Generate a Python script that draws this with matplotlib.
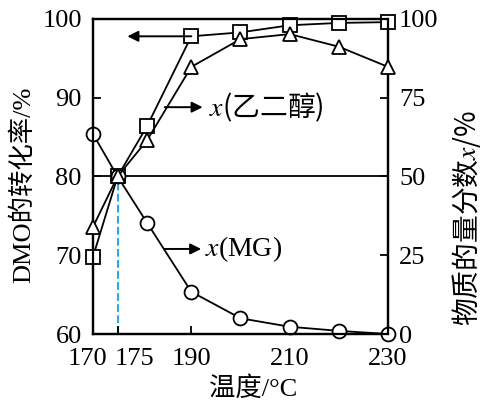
import matplotlib
matplotlib.use('Agg')
import matplotlib.pyplot as plt
from matplotlib.transforms import ScaledTranslation

plt.rcParams['mathtext.fontset'] = 'stix'

# data
temp = [170, 175, 181, 190, 200, 210, 220, 230]
dmo_conv = [69.8, 80.0, 86.4, 97.8, 98.3, 99.2, 99.5, 99.6]   # left axis
x_eg = [34.0, 50.0, 61.5, 84.8, 93.6, 95.2, 91.2, 84.8]        # right axis
x_mg = [63.5, 50.0, 35.3, 13.4, 5.0, 2.3, 1.0, 0.0]            # right axis

xticks = [170, 175, 190, 210, 230]
left_ticks = [60, 70, 80, 90, 100]
right_ticks = [0, 25, 50, 75, 100]

serif = 'Liberation Serif'
cjk = ['Liberation Serif', 'Noto Sans CJK SC']
fs = 19

fig = plt.figure(figsize=(4.83, 4.03), dpi=100)
ax = fig.add_axes([0.1925, 0.1712, 0.6108, 0.7817])
ax2 = ax.twinx()

# left axis: DMO conversion
ax.plot(temp, dmo_conv, 'k-', lw=1.3, marker='s', ms=10, mfc='white', mec='k', mew=1.3,
        zorder=3, clip_on=False)
ax.axhline(80, color='k', lw=1.3, zorder=2)
ax.plot([175, 175], [60, 80], ls='--', color='#29abe2', lw=1.5, zorder=1)

# right axis: mole fractions
ax2.plot(temp, x_mg, 'k-', lw=1.3, marker='o', ms=10, mfc='white', mec='k', mew=1.3,
         zorder=2, clip_on=False)
ax2.plot(temp, x_eg, 'k-', lw=1.3, marker='^', ms=10.5, mfc='white', mec='k', mew=1.3,
         zorder=3, clip_on=False)

ax.set_xlim(170, 230)
ax.set_ylim(60, 100)
ax2.set_ylim(0, 100)

ax.set_xticks(xticks)
ax.set_xticklabels([str(t) for t in xticks])
ax.set_yticks(left_ticks)
ax2.set_yticks(right_ticks)

for a in (ax, ax2):
    for s in a.spines.values():
        s.set_linewidth(1.6)
    a.tick_params(direction='in', length=6, width=1.3, labelsize=fs, pad=8)
    for lab in a.get_xticklabels() + a.get_yticklabels():
        lab.set_fontfamily(serif)
ax.tick_params(axis='x', pad=10)

# shift the crowded 170/175 labels like the original
labs = ax.get_xticklabels()
labs[0].set_transform(labs[0].get_transform() + ScaledTranslation(-5 / 100, 0, fig.dpi_scale_trans))
labs[1].set_horizontalalignment('left')
labs[1].set_transform(labs[1].get_transform() + ScaledTranslation(-3 / 100, 0, fig.dpi_scale_trans))

# arrows and series labels
arr = dict(arrowstyle='-|>', color='k', lw=1.4, mutation_scale=16, shrinkA=0, shrinkB=0)
ax.annotate('', xy=(177.0, 97.8), xytext=(190, 97.8), arrowprops=arr)
ax.annotate('', xy=(192.3, 88.8), xytext=(184.6, 88.8), arrowprops=arr)
ax.annotate('', xy=(192.0, 70.8), xytext=(184.6, 70.8), arrowprops=arr)
ax.text(193.6, 88.8, '$x$(乙二醇)', fontsize=20, family='Noto Sans CJK SC', va='center', ha='left')
ax.text(192.8, 70.8, '$x$(MG)', fontsize=20, family=serif, va='center', ha='left')

# axis titles
fig.text(0.048, 0.542, 'DMO的转化率/%', rotation=90, fontsize=fs, family=cjk, ha='center', va='center')
fig.text(0.966, 0.459, '物质的量分数$x$/%', rotation=90, fontsize=fs + 1, family='Noto Sans CJK SC', ha='center', va='center')
fig.text(0.524, 0.035, '温度/°C', fontsize=fs, family=cjk, ha='center', va='center')

fig.savefig('out.png', dpi=100)
